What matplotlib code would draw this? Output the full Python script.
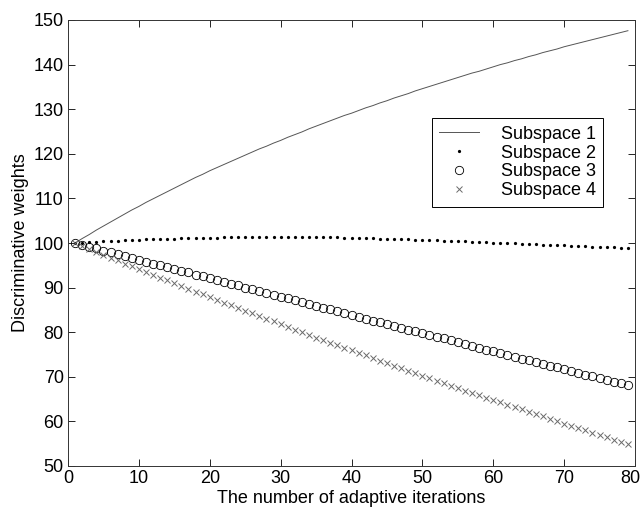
import numpy as np
import matplotlib
matplotlib.use('Agg')
import matplotlib.pyplot as plt
from matplotlib.transforms import ScaledTranslation

# ---------------------------------------------------------------------------
# Data (iterations 1..79)
# ---------------------------------------------------------------------------

iterations = list(range(1, 80))

subspace1 = [
    100.0, 101.0, 101.9, 102.9, 103.8, 104.7, 105.6, 106.5, 107.4, 108.2,
    109.1, 109.9, 110.7, 111.5, 112.3, 113.1, 113.9, 114.7, 115.4, 116.2,
    116.9, 117.6, 118.3, 119.0, 119.7, 120.4, 121.1, 121.7, 122.4, 123.0,
    123.7, 124.3, 124.9, 125.6, 126.2, 126.8, 127.4, 128.0, 128.6, 129.1,
    129.7, 130.3, 130.8, 131.4, 131.9, 132.5, 133.0, 133.5, 134.1, 134.6,
    135.1, 135.6, 136.1, 136.6, 137.1, 137.6, 138.1, 138.5, 139.0, 139.5,
    140.0, 140.4, 140.9, 141.3, 141.8, 142.2, 142.7, 143.1, 143.5, 144.0,
    144.4, 144.8, 145.2, 145.6, 146.0, 146.4, 146.8, 147.2, 147.6,
]

subspace2 = [
    100.0, 100.1, 100.2, 100.3, 100.4, 100.5, 100.55, 100.6, 100.7, 100.75,
    100.8, 100.85, 100.9, 100.95, 101.0, 101.05, 101.1, 101.1, 101.15, 101.2,
    101.2, 101.25, 101.3, 101.3, 101.3, 101.35, 101.35, 101.35, 101.4, 101.4,
    101.4, 101.35, 101.35, 101.35, 101.3, 101.3, 101.25, 101.25, 101.2, 101.15,
    101.1, 101.1, 101.05, 101.0, 100.95, 100.9, 100.85, 100.8, 100.75, 100.7,
    100.65, 100.6, 100.5, 100.45, 100.4, 100.35, 100.3, 100.2, 100.15, 100.1,
    100.0, 99.95, 99.9, 99.85, 99.8, 99.7, 99.65, 99.6, 99.5, 99.45,
    99.4, 99.3, 99.25, 99.2, 99.1, 99.05, 99.0, 98.9, 98.85,
]

subspace3 = [
    100.0, 99.6, 99.2, 98.8, 98.3, 97.9, 97.5, 97.1, 96.7, 96.3,
    95.8, 95.4, 95.0, 94.6, 94.2, 93.8, 93.4, 92.9, 92.5, 92.1,
    91.7, 91.3, 90.9, 90.5, 90.0, 89.6, 89.2, 88.8, 88.4, 88.0,
    87.6, 87.2, 86.7, 86.3, 85.9, 85.5, 85.1, 84.7, 84.3, 83.9,
    83.5, 83.0, 82.6, 82.2, 81.8, 81.4, 81.0, 80.6, 80.2, 79.8,
    79.4, 79.0, 78.6, 78.2, 77.7, 77.3, 76.9, 76.5, 76.1, 75.7,
    75.3, 74.9, 74.5, 74.1, 73.7, 73.3, 72.9, 72.5, 72.1, 71.7,
    71.3, 70.9, 70.5, 70.1, 69.7, 69.3, 68.9, 68.5, 68.1,
]

subspace4 = [
    100.0, 99.3, 98.7, 98.0, 97.4, 96.7, 96.1, 95.4, 94.8, 94.1,
    93.5, 92.9, 92.2, 91.6, 91.0, 90.3, 89.7, 89.1, 88.5, 87.8,
    87.2, 86.6, 86.0, 85.4, 84.8, 84.2, 83.6, 83.0, 82.4, 81.8,
    81.2, 80.6, 80.0, 79.4, 78.8, 78.2, 77.6, 77.1, 76.5, 75.9,
    75.3, 74.8, 74.2, 73.6, 73.0, 72.5, 71.9, 71.4, 70.8, 70.2,
    69.7, 69.1, 68.6, 68.0, 67.5, 66.9, 66.4, 65.9, 65.3, 64.8,
    64.3, 63.7, 63.2, 62.7, 62.1, 61.6, 61.1, 60.6, 60.0, 59.5,
    59.0, 58.5, 58.0, 57.5, 56.9, 56.4, 55.9, 55.4, 54.9,
]

labels = ['Subspace 1', 'Subspace 2', 'Subspace 3', 'Subspace 4']
x_ticks = [0, 10, 20, 30, 40, 50, 60, 70, 80]
y_ticks = [50, 60, 70, 80, 90, 100, 110, 120, 130, 140, 150]

# ---------------------------------------------------------------------------
# Plot
# ---------------------------------------------------------------------------

plt.rcParams['font.family'] = ['Liberation Sans', 'DejaVu Sans']
plt.rcParams['font.size'] = 13

fig = plt.figure(figsize=(6.43, 5.12), dpi=100)
ax = fig.add_axes([68 / 643, 1 - 466 / 512, (635 - 68) / 643, (466 - 20) / 512])

ax.plot(iterations, subspace1, '-', color='#555555', linewidth=0.7,
        label=labels[0])
ax.plot(iterations, subspace2, '.', color='black', markersize=2.6,
        label=labels[1])
ax.plot(iterations, subspace3, 'o', markerfacecolor='none',
        markeredgecolor='black', markeredgewidth=0.6, markersize=6,
        label=labels[2])
ax.plot(iterations, subspace4, 'x', color='#6a6a6a', markeredgewidth=0.7,
        markersize=4.5, label=labels[3])

ax.set_xlim(0, 80)
ax.set_ylim(50, 150)
ax.set_xticks(x_ticks)
ax.set_yticks(y_ticks)
ax.tick_params(direction='in', length=5, width=0.6, top=True, right=True,
               labelsize=13, pad=3)
for sp in ax.spines.values():
    sp.set_linewidth(0.7)
    sp.set_color('#333333')

# last x tick label sits just inside the figure edge, as in the original
fig.canvas.draw()
last = ax.get_xticklabels()[-1]
last.set_transform(last.get_transform() +
                   ScaledTranslation(-5 / 100, 0, fig.dpi_scale_trans))

ax.set_xlabel('The number of adaptive iterations', fontsize=13, labelpad=2)
ax.set_ylabel('Discriminative weights', fontsize=13, labelpad=3)

leg = ax.legend(loc='upper right', bbox_to_anchor=(0.944, 0.780),
                borderaxespad=0, fancybox=False, framealpha=1,
                edgecolor='black', fontsize=13, handlelength=2.2,
                handletextpad=1.2, labelspacing=0.1, borderpad=0.42)
leg.get_frame().set_linewidth(0.7)

fig.savefig('out.png', dpi=100)
plt.close(fig)
